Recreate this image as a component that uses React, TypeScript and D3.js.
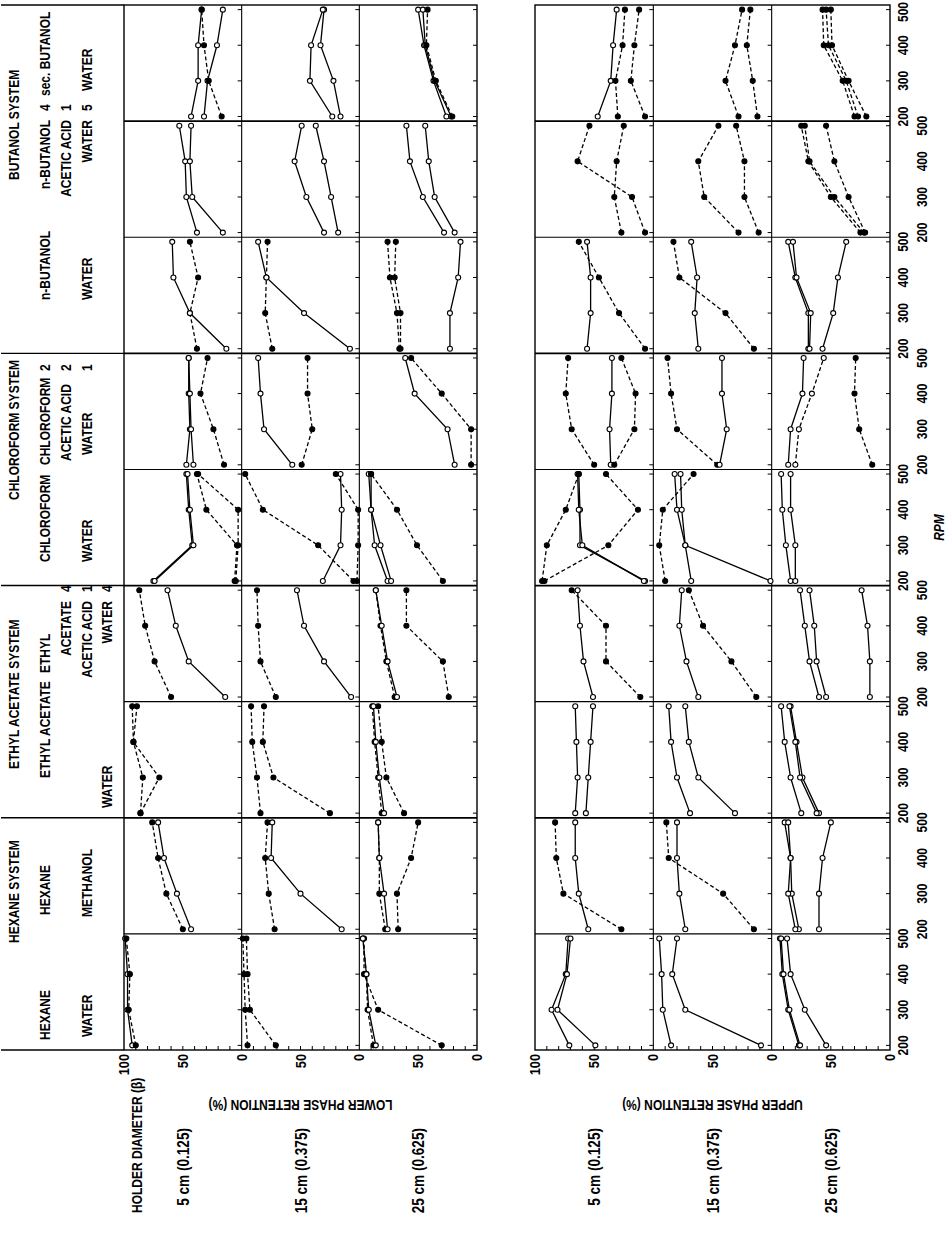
import React from 'react';
import * as d3 from 'd3';

// rotation speed (rpm) of each reading
const rpm = [200, 300, 400, 500];
const rpmTicks = [200, 300, 400, 500];
const retentionTicks = [100, 50, 0];
const holderLabels = ['5 cm (0.125)', '15 cm (0.375)', '25 cm (0.625)'];
const phaseTitles = ['LOWER PHASE RETENTION (%)', 'UPPER PHASE RETENTION (%)'];
const systemTitles = ['HEXANE SYSTEM', 'ETHYL ACETATE SYSTEM', 'CHLOROFORM SYSTEM', 'BUTANOL SYSTEM'];

// solvent names per column (4 text lines) and volume ratios
const solventNames = [
  ['HEXANE', '', 'WATER', ''],
  ['HEXANE', '', 'METHANOL', ''],
  ['ETHYL ACETATE', '', '', 'WATER'],
  ['ETHYL', 'ACETATE', 'ACETIC ACID', 'WATER'],
  ['CHLOROFORM', '', 'WATER', ''],
  ['CHLOROFORM', 'ACETIC ACID', 'WATER', ''],
  ['n-BUTANOL', '', 'WATER', ''],
  ['n-BUTANOL', 'ACETIC ACID', 'WATER', ''],
  ['sec. BUTANOL', '', 'WATER', ''],
];
const solventRatios = [
  ['', '', '', ''], ['', '', '', ''], ['', '', '', ''],
  ['', '4', '1', '4'],
  ['', '', '', ''],
  ['2', '2', '1', ''],
  ['', '', '', ''],
  ['4', '1', '5', ''],
  ['', '', '', ''],
];

// panels: lower phase 5/15/25 cm, upper phase 5/15/25 cm
// k: 'o' open circle + solid line, 'f' filled circle + dashed line, 'd' open circle + dashed line
// v: retention (%) at 200, 300, 400, 500 rpm
const hexaneWater = [
  [{ k: 'o', v: [93, 97, 97, 99] }, { k: 'f', v: [90, 96, 95, 98] }],
  [{ k: 'f', v: [95, 97, 98, 99] }, { k: 'f', v: [71, 93, 95, 96] }],
  [{ k: 'f', v: [88, 93, 94, 97] }, { k: 'f', v: [30, 84, 96, 96] }, { k: 'o', v: [86, 92, 94, 97] }],
  [{ k: 'o', v: [71, 86, 74, 72] }, { k: 'o', v: [49, 81, 73, 70] }],
  [{ k: 'o', v: [85, 92, 93, 95] }, { k: 'o', v: [9, 73, 84, 80] }],
  [{ k: 'o', v: [77, 86, 91, 93] }, { k: 'o', v: [54, 72, 84, 87] }, { k: 'o', v: [76, 85, 90, 92] }],
];
const hexaneMethanol = [
  [{ k: 'f', v: [50, 64, 71, 76] }, { k: 'o', v: [43, 55, 66, 71] }],
  [{ k: 'f', v: [72, 77, 80, 78] }, { k: 'o', v: [15, 50, 75, 74] }],
  [{ k: 'f', v: [78, 83, 83, 84] }, { k: 'f', v: [67, 68, 56, 50] }, { k: 'o', v: [76, 79, 83, 84] }],
  [{ k: 'f', v: [27, 76, 82, 83] }, { k: 'o', v: [55, 63, 66, 66] }],
  [{ k: 'f', v: [15, 41, 87, 89] }, { k: 'o', v: [73, 78, 80, 80] }],
  [{ k: 'o', v: [77, 83, 84, 89] }, { k: 'o', v: [80, 86, 84, 86] }, { k: 'o', v: [60, 60, 57, 50] }],
];
const ethylAcetateWater = [
  [{ k: 'f', v: [86, 84, 92, 93] }, { k: 'f', v: [86, 70, 92, 89] }],
  [{ k: 'f', v: [84, 87, 91, 92] }, { k: 'f', v: [25, 73, 82, 81] }],
  [{ k: 'f', v: [81, 84, 87, 89] }, { k: 'f', v: [62, 77, 81, 84] }, { k: 'o', v: [79, 83, 86, 88] }],
  [{ k: 'o', v: [66, 64, 65, 66] }, { k: 'o', v: [57, 55, 53, 51] }],
  [{ k: 'o', v: [69, 80, 85, 87] }, { k: 'o', v: [31, 62, 70, 73] }],
  [{ k: 'o', v: [75, 84, 89, 92] }, { k: 'o', v: [60, 74, 79, 84] }, { k: 'o', v: [62, 76, 80, 85] }],
];
const ethylAcetateAceticWater = [
  [{ k: 'f', v: [60, 74, 82, 87] }, { k: 'o', v: [14, 45, 56, 63] }],
  [{ k: 'f', v: [71, 84, 86, 87] }, { k: 'o', v: [7, 30, 47, 53] }],
  [{ k: 'f', v: [70, 77, 82, 86] }, { k: 'f', v: [24, 29, 60, 60] }, { k: 'o', v: [68, 76, 81, 86] }],
  [{ k: 'o', v: [51, 59, 62, 64] }, { k: 'f', v: [11, 40, 40, 69] }],
  [{ k: 'o', v: [62, 72, 78, 76] }, { k: 'f', v: [13, 34, 58, 70] }],
  [{ k: 'o', v: [60, 68, 72, 76] }, { k: 'o', v: [54, 62, 64, 68] }, { k: 'o', v: [17, 17, 19, 24] }],
];
const chloroformWater = [
  [{ k: 'o', v: [75, 42, 45, 47] }, { k: 'o', v: [74, 41, 44, 46] }, { k: 'f', v: [6, 4, 30, 38] }, { k: 'f', v: [5, 3, 3, 37] }],
  [{ k: 'o', v: [31, 16, 15, 16] }, { k: 'f', v: [5, 35, 82, 97] }, { k: 'f', v: [2, 1, 1, 20] }],
  [{ k: 'o', v: [76, 87, 90, 92] }, { k: 'o', v: [73, 82, 90, 90] }, { k: 'f', v: [29, 51, 68, 90] }],
  [{ k: 'o', v: [7, 62, 62, 63] }, { k: 'o', v: [8, 60, 63, 64] }, { k: 'f', v: [94, 90, 74, 63] }, { k: 'f', v: [92, 38, 13, 40] }],
  [{ k: 'o', v: [68, 73, 80, 82] }, { k: 'o', v: [1, 73, 76, 77] }, { k: 'f', v: [90, 95, 92, 66] }],
  [{ k: 'o', v: [84, 88, 91, 92] }, { k: 'o', v: [80, 80, 84, 84] }],
];
const chloroformAceticWater = [
  [{ k: 'o', v: [47, 44, 45, 45] }, { k: 'o', v: [41, 43, 44, 45] }, { k: 'f', v: [15, 24, 35, 29] }],
  [{ k: 'o', v: [57, 81, 84, 86] }, { k: 'f', v: [49, 40, 44, 44] }],
  [{ k: 'o', v: [19, 25, 53, 61] }, { k: 'f', v: [5, 5, 30, 56] }],
  [{ k: 'f', v: [50, 69, 74, 72] }, { k: 'o', v: [36, 37, 35, 35] }, { k: 'f', v: [33, 16, 15, 27] }],
  [{ k: 'f', v: [46, 80, 85, 88] }, { k: 'o', v: [44, 38, 42, 42] }],
  [{ k: 'o', v: [86, 84, 74, 73] }, { k: 'd', v: [80, 77, 66, 56] }, { k: 'f', v: [15, 26, 30, 29] }],
];
const butanolWater = [
  [{ k: 'f', v: [38, 44, 37, 44] }, { k: 'o', v: [13, 44, 58, 59] }],
  [{ k: 'f', v: [74, 80, 79, 78] }, { k: 'o', v: [8, 47, 79, 86] }],
  [{ k: 'f', v: [66, 68, 74, 76] }, { k: 'f', v: [65, 65, 70, 69] }, { k: 'o', v: [23, 23, 16, 14] }],
  [{ k: 'f', v: [7, 29, 46, 63] }, { k: 'o', v: [56, 53, 53, 56] }],
  [{ k: 'f', v: [15, 39, 78, 83] }, { k: 'o', v: [62, 65, 63, 68] }],
  [{ k: 'o', v: [69, 69, 80, 86] }, { k: 'o', v: [68, 67, 79, 82] }, { k: 'o', v: [57, 48, 44, 37] }],
];
const butanolAceticWater = [
  [{ k: 'o', v: [38, 47, 48, 53] }, { k: 'o', v: [16, 42, 44, 43] }],
  [{ k: 'o', v: [30, 45, 55, 49] }, { k: 'o', v: [18, 24, 30, 37] }],
  [{ k: 'o', v: [28, 46, 57, 60] }, { k: 'o', v: [19, 36, 41, 44] }],
  [{ k: 'f', v: [27, 33, 31, 25] }, { k: 'f', v: [7, 18, 64, 54] }],
  [{ k: 'f', v: [28, 57, 62, 45] }, { k: 'f', v: [11, 23, 23, 30] }],
  [{ k: 'f', v: [25, 50, 69, 75] }, { k: 'f', v: [22, 47, 68, 72] }, { k: 'f', v: [21, 35, 47, 54] }],
];
const secButanolWater = [
  [{ k: 'o', v: [43, 37, 37, 34] }, { k: 'o', v: [32, 29, 21, 16] }, { k: 'f', v: [17, 28, 32, 34] }],
  [{ k: 'o', v: [16, 22, 33, 30] }, { k: 'o', v: [23, 42, 41, 31] }],
  [{ k: 'o', v: [26, 37, 45, 50] }, { k: 'o', v: [22, 36, 44, 46] }, { k: 'f', v: [21, 35, 43, 42] }],
  [{ k: 'o', v: [47, 36, 34, 31] }, { k: 'f', v: [30, 32, 26, 24] }, { k: 'f', v: [7, 19, 16, 12] }],
  [{ k: 'f', v: [28, 39, 31, 25] }, { k: 'f', v: [12, 16, 21, 18] }],
  [{ k: 'f', v: [30, 40, 56, 57] }, { k: 'f', v: [27, 37, 52, 54] }, { k: 'f', v: [20, 35, 49, 50] }],
];

const systems = [
  hexaneWater, hexaneMethanol, ethylAcetateWater, ethylAcetateAceticWater,
  chloroformWater, chloroformAceticWater, butanolWater, butanolAceticWater, secButanolWater,
];

// figure is drawn upright (1233 wide, 947 high) and turned a quarter turn on the page
const FW = 1233;
const FONT = '"Liberation Sans", Arial, sans-serif';

// squeezed bold lettering, like the condensed stencil type of the original
function Txt({ x, y, anchor = 'start', size = 14, sx = 0.8, rot = 0, italic = false, children }: any) {
  return (
    <text transform={`translate(${x},${y})${rot ? ` rotate(${rot})` : ''} scale(${sx},1)`}
      textAnchor={anchor} fontSize={size} fontFamily={FONT} fontWeight="bold"
      fontStyle={italic ? 'italic' : 'normal'}>{children}</text>
  );
}

export default function App() {
  const col = d3.scaleBand<number>().domain(d3.range(9)).range([183, 1228]);
  const blocks: [number, number][] = [[124, 477], [535, 890]];
  const rows = blocks.map(b => d3.scaleBand<number>().domain([0, 1, 2]).range(b));
  const bw = col.bandwidth();

  const panelScales = (c: number, p: number) => {
    const b = p < 3 ? 0 : 1;
    const r = p % 3;
    const x0 = col(c)!;
    const y0 = rows[b](r)!;
    const rh = rows[b].bandwidth();
    const xs = d3.scaleLinear().domain([187, 513]).range([x0, x0 + bw]);
    const ys = d3.scaleLinear().domain([0, 100]).range([y0 + rh, y0]);
    return { xs, ys, y0, rh };
  };

  const els: React.ReactNode[] = [];

  // frames
  blocks.forEach(([t, b], bi) => {
    els.push(<rect key={`frame${bi}`} x={183} y={t} width={1045} height={b - t} fill="none" stroke="#000" strokeWidth={1.4} />);
    d3.range(1, 9).forEach(c => {
      const heavy = c % 2 === 0;
      els.push(<line key={`v${bi}-${c}`} x1={col(c)} x2={col(c)} y1={t} y2={b} stroke="#000" strokeWidth={heavy ? 1.7 : 1.1} />);
    });
    [1, 2].forEach(r => {
      const y = rows[bi](r)!;
      els.push(<line key={`h${bi}-${r}`} x1={183} x2={1228} y1={y} y2={y} stroke="#000" strokeWidth={1.1} />);
    });
  });
  // system separators running through the heading strip
  [0, 2, 4, 6, 9].forEach(c => {
    const x = c === 9 ? 1228 : col(c)!;
    els.push(<line key={`sep${c}`} x1={x} x2={x} y1={1} y2={124} stroke="#000" strokeWidth={1.4} />);
  });

  // ticks
  systems.forEach((_, c) => {
    d3.range(6).forEach(p => {
      const { xs, ys, y0, rh } = panelScales(c, p);
      rpmTicks.forEach(t => {
        els.push(<line key={`rt${c}-${p}-${t}`} x1={xs(t)} x2={xs(t)} y1={y0 + rh} y2={y0 + rh - 4} stroke="#000" strokeWidth={1} />);
      });
      if (c === 0) {
        d3.range(10, 100, 10).forEach(t => {
          els.push(<line key={`yt${p}-${t}`} x1={183} x2={187} y1={ys(t)} y2={ys(t)} stroke="#000" strokeWidth={1} />);
        });
      }
    });
  });

  // series
  systems.forEach((sys, c) => {
    sys.forEach((series, p) => {
      const { xs, ys } = panelScales(c, p);
      const line = d3.line<number>().x((_, i) => xs(rpm[i])).y(d => ys(d));
      series.forEach((s, si) => {
        const dashed = s.k !== 'o';
        const filled = s.k === 'f';
        els.push(
          <path key={`l${c}-${p}-${si}`} d={line(s.v) || ''} fill="none" stroke="#000"
            strokeWidth={1.3} strokeDasharray={dashed ? '4,2.5' : undefined} />
        );
        s.v.forEach((d, i) => {
          els.push(
            <circle key={`m${c}-${p}-${si}-${i}`} cx={xs(rpm[i])} cy={ys(d)} r={2.5}
              fill={filled ? '#000' : '#fff'} stroke="#000" strokeWidth={1.1} />
          );
        });
      });
    });
  });

  // retention tick labels
  blocks.forEach((_, bi) => {
    [0, 1, 2].forEach(r => {
      const { ys } = panelScales(0, bi * 3 + r);
      retentionTicks.forEach(t => {
        if (t === 100 && r > 0) return;
        els.push(<Txt key={`yl${bi}-${r}-${t}`} x={179} y={ys(t) + 5} anchor="end" size={15} sx={0.85}>{t}</Txt>);
      });
    });
  });

  // rpm tick labels, staggered in two lines
  systems.forEach((_, c) => {
    const { xs } = panelScales(c, 5);
    rpmTicks.forEach(t => {
      els.push(<Txt key={`xl${c}-${t}`} x={Math.min(xs(t), 1221)} y={c % 2 === 0 ? 908 : 927} anchor="middle" size={15}>{t}</Txt>);
    });
  });
  els.push(<Txt key="rpmTitle" x={(183 + 1228) / 2} y={944} anchor="middle" size={15} italic>RPM</Txt>);

  // phase titles and holder labels
  blocks.forEach(([t, b], bi) => {
    els.push(<Txt key={`pt${bi}`} x={133} y={(t + b) / 2} anchor="middle" size={15} rot={-90}>{phaseTitles[bi]}</Txt>);
    holderLabels.forEach((h, r) => {
      const y = rows[bi](r)! + rows[bi].bandwidth() / 2;
      els.push(<Txt key={`hl${bi}-${r}`} x={105} y={y + 6} anchor="end" size={16} sx={0.85}>{h}</Txt>);
    });
  });
  els.push(<Txt key="holder" x={20} y={142} size={15}>HOLDER DIAMETER (β)</Txt>);

  // heading strip
  const titleX = [290, 464, 733, 1053];
  systemTitles.forEach((s, i) => {
    els.push(<Txt key={`st${i}`} x={titleX[i]} y={19} size={15}>{s}</Txt>);
  });
  const lineY = [50, 71, 92, 112];
  // start of each name; columns with ratios given in rightAlign end their names before the ratio
  const nameX = [
    [193, 0, 196, 0],
    [318, 0, 316, 0],
    [455, 0, 0, 425],
    [560, 0, 0, 0],
    [671, 0, 671, 0],
    [768, 772, 778, 0],
    [933, 0, 933, 0],
    [0, 0, 0, 0],
    [1137, 0, 1142, 0],
  ];
  const ratioX = [0, 0, 0, 641, 0, 862, 0, 1122, 0];
  const rightAlign = [false, false, false, true, false, false, false, true, false];
  solventNames.forEach((names, c) => {
    names.forEach((n, li) => {
      if (!n) return;
      const rt = solventRatios[c][li];
      if (rightAlign[c] && rt) {
        els.push(<Txt key={`sn${c}-${li}`} x={ratioX[c] - 9} y={lineY[li]} anchor="end" size={15}>{n}</Txt>);
      } else {
        els.push(<Txt key={`sn${c}-${li}`} x={nameX[c][li]} y={lineY[li]} size={15}>{n}</Txt>);
      }
      if (rt) els.push(<Txt key={`sr${c}-${li}`} x={ratioX[c]} y={lineY[li]} size={15}>{rt}</Txt>);
    });
  });

  return (
    <svg width={947} height={1233} style={{ position: 'absolute', left: 0, top: 0, background: '#fff' }}>
      <rect x={0} y={0} width={947} height={1233} fill="#fff" />
      <g transform={`translate(0,${FW}) rotate(-90)`}>{els}</g>
    </svg>
  );
}
